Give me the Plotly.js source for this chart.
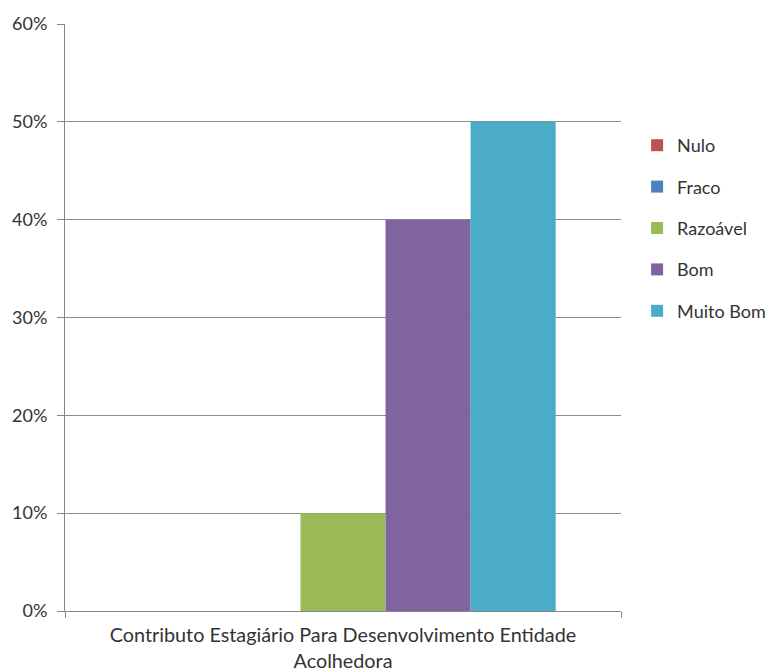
<!DOCTYPE html>
<html>
<head>
<meta charset="utf-8">
<script src="https://cdn.plot.ly/plotly-3.0.1.min.js"></script>
<style>html,body{margin:0;padding:0;background:#fff;}#chart{width:776px;height:671px;}</style>
</head>
<body>
<div id="chart"></div>
<script>
const categories = ["Contributo Estagiário Para Desenvolvimento Entidade<br>Acolhedora"];
const seriesNames = ["Nulo", "Fraco", "Razoável", "Bom", "Muito Bom"];
const nulo = [0];
const fraco = [0];
const razoavel = [0.10];
const bom = [0.40];
const muitoBom = [0.50];
const seriesValues = [nulo, fraco, razoavel, bom, muitoBom];
const colors = ["#C0504D", "#4F81BD", "#9BBB59", "#8064A2", "#4BACC6"];
const yTicks = [0, 0.1, 0.2, 0.3, 0.4, 0.5, 0.6];

const font = {family: "Lato, sans-serif", size: 18, color: "#333333"};
const catFont = {family: "Lato, sans-serif", size: 19.8, color: "#333333"};
const legendFont = {family: "Lato, sans-serif", size: 18, color: "#333333"};

const traces = seriesNames.map((n, i) => ({
  type: "bar",
  name: n,
  x: categories,
  y: seriesValues[i],
  marker: {color: colors[i]},
  legendgroup: "g" + i,
  hoverinfo: "name+y"
}));

const layout = {
  width: 776, height: 671,
  margin: {l: 65, r: 155, t: 24, b: 60, autoexpand: false},
  paper_bgcolor: "#fff", plot_bgcolor: "#fff",
  font: font,
  barmode: "group",
  bargap: 0.235,
  bargroupgap: 0,
  showlegend: true,
  legend: {
    xref: "container", yref: "container",
    x: 0.821, xanchor: "left", y: 1 - 127/671, yanchor: "top",
    traceorder: "grouped",
    tracegroupgap: 15,
    font: legendFont
  },
  xaxis: {
    type: "category",
    showline: true, linecolor: "#868686", linewidth: 1,
    ticks: "outside", tickson: "boundaries", ticklen: 6, tickcolor: "#868686",
    showgrid: false, zeroline: false,
    ticklabelstandoff: 6,
    tickfont: catFont
  },
  yaxis: {
    range: [0, 0.6],
    tickvals: yTicks,
    tickformat: ".0%",
    showline: true, linecolor: "#868686", linewidth: 1,
    ticks: "outside", ticklen: 7, tickcolor: "#868686",
    showgrid: true, gridcolor: "#8C8C8C", gridwidth: 1,
    zeroline: false,
    ticklabelstandoff: 6,
    tickfont: font
  }
};

Plotly.newPlot("chart", traces, layout, {displayModeBar: false, staticPlot: true});
</script>
</body>
</html>
